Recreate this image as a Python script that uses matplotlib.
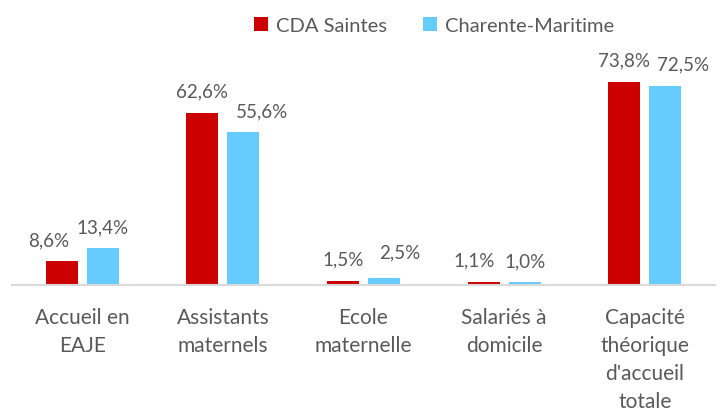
import matplotlib.pyplot as plt
import numpy as np

plt.rcParams['font.family'] = ['Lato', 'DejaVu Sans']

categories = ["Accueil en\nEAJE", "Assistants\nmaternels", "Ecole\nmaternelle",
              "Salariés à\ndomicile", "Capacité\nthéorique\nd'accueil\ntotale"]
cda_saintes = [8.6, 62.6, 1.5, 1.1, 73.8]
charente_maritime = [13.4, 55.6, 2.5, 1.0, 72.5]
series_names = ["CDA Saintes", "Charente-Maritime"]

red = "#CC0000"
blue = "#66CCFF"
grey = "#595959"

# label nudges (points) - excel moved some labels sideways to avoid clashes
nudge_cda = [(-9.5, 0), (0, 0), (0, 0), (-7, 0), (0, 0)]
nudge_cm = [(0, 0), (13.5, 0), (11.5, 3.5), (0, 0), (13, 0)]

fig = plt.figure(figsize=(7.28, 4.14), dpi=100)
ax = fig.add_axes([12 / 728, 1 - 286 / 414, 703 / 728, 220 / 414])

x = np.arange(len(categories))
w = 0.228
off = 0.146
b1 = ax.bar(x - off, cda_saintes, w, color=red, label=series_names[0])
b2 = ax.bar(x + off, charente_maritime, w, color=blue, label=series_names[1])

for bars, vals, nudge in [(b1, cda_saintes, nudge_cda), (b2, charente_maritime, nudge_cm)]:
    for b, v, (dx, dy) in zip(bars, vals, nudge):
        ax.annotate(("%.1f%%" % v).replace(".", ","),
                    (b.get_x() + b.get_width() / 2, v),
                    xytext=(dx, 9.5 + dy), textcoords="offset points",
                    ha="center", va="bottom", fontsize=13.5, color=grey)

ax.set_xlim(-0.5, len(categories) - 0.5)
ax.set_ylim(0, 80)
ax.set_yticks([])
ax.set_xticks(x)
ax.set_xticklabels(categories, fontsize=15, color=grey, linespacing=1.5)
ax.tick_params(axis="x", length=0, pad=15.5)
for s in ["top", "right", "left"]:
    ax.spines[s].set_visible(False)
ax.spines["bottom"].set_color("#D9D9D9")
ax.spines["bottom"].set_linewidth(1.5)

fig.legend(loc="upper center", bbox_to_anchor=(0.596, 1.0), ncol=2, frameon=False,
           fontsize=14.5, labelcolor=grey, handlelength=0.7, handleheight=0.7,
           handletextpad=0.4, columnspacing=1.8)

fig.savefig("out.png", dpi=100)
